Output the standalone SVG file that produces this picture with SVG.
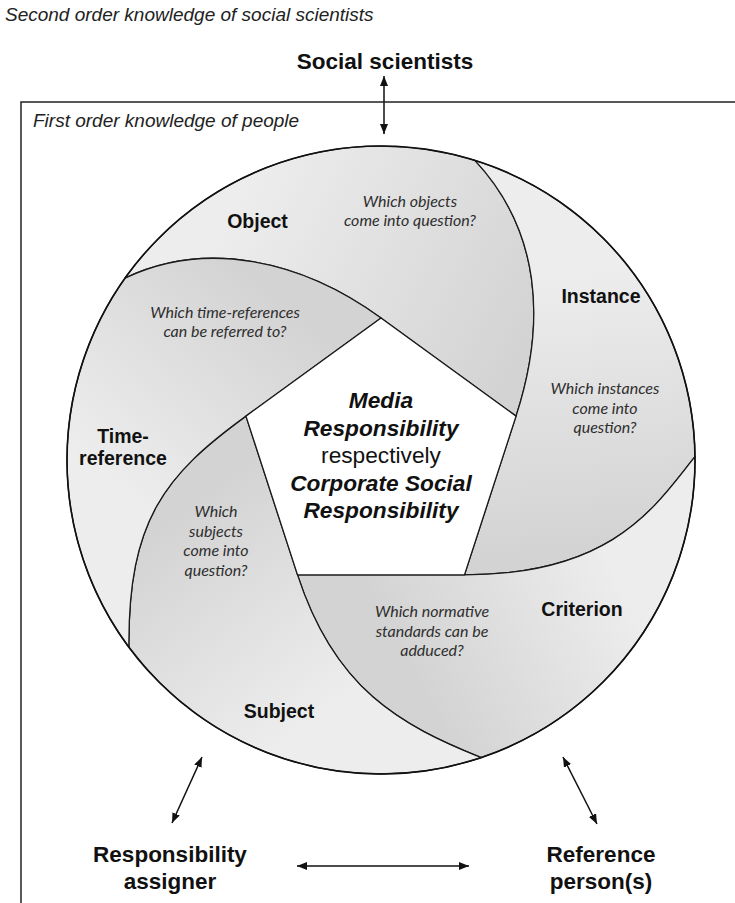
<svg xmlns="http://www.w3.org/2000/svg" width="735" height="903" viewBox="0 0 735 903">
<style>
.cap{font-family:"Liberation Sans",Arial,sans-serif;font-style:italic;font-size:19px;fill:#222}
.lbl{font-family:"Liberation Sans",Arial,sans-serif;font-weight:bold;font-size:19.5px;fill:#111;text-anchor:middle}
.big{font-family:"Liberation Sans",Arial,sans-serif;font-weight:bold;font-size:22.5px;fill:#111;text-anchor:middle}
.q{font-family:Lato,"Open Sans",sans-serif;font-style:italic;font-size:16px;fill:#2e2e2e;text-anchor:middle}
.ctr{font-family:"Liberation Sans",Arial,sans-serif;font-size:22.7px;fill:#111;text-anchor:middle}
.bi{font-weight:bold;font-style:italic}
.blade{stroke:#1a1a1a;stroke-width:1.3;stroke-linejoin:round}
.con{stroke:#111;stroke-width:1.5;fill:none;marker-start:url(#ah);marker-end:url(#ah)}
</style>
<defs>
<marker id="ah" viewBox="0 0 10 8" refX="10" refY="4" markerWidth="10" markerHeight="8" markerUnits="userSpaceOnUse" orient="auto-start-reverse">
<path d="M0,0 L10,4 L0,8 z" fill="#111"/>
</marker>
<linearGradient id="gObj" gradientUnits="userSpaceOnUse" x1="240" y1="190" x2="530" y2="340"><stop offset="0" stop-color="#ededed"/><stop offset="1" stop-color="#d3d3d3"/></linearGradient>
<linearGradient id="gIns" gradientUnits="userSpaceOnUse" x1="580" y1="270" x2="610" y2="545"><stop offset="0" stop-color="#ededed"/><stop offset="1" stop-color="#d3d3d3"/></linearGradient>
<linearGradient id="gCri" gradientUnits="userSpaceOnUse" x1="620" y1="580" x2="420" y2="690"><stop offset="0" stop-color="#ededed"/><stop offset="1" stop-color="#d3d3d3"/></linearGradient>
<linearGradient id="gSub" gradientUnits="userSpaceOnUse" x1="330" y1="710" x2="180" y2="510"><stop offset="0" stop-color="#ededed"/><stop offset="1" stop-color="#d3d3d3"/></linearGradient>
<linearGradient id="gTim" gradientUnits="userSpaceOnUse" x1="110" y1="480" x2="270" y2="290"><stop offset="0" stop-color="#ededed"/><stop offset="1" stop-color="#d3d3d3"/></linearGradient>
</defs>
<rect width="735" height="903" fill="#fff"/>
<text class="cap" x="5" y="21">Second order knowledge of social scientists</text>
<path d="M735,102 H21 V903" fill="none" stroke="#222" stroke-width="1.5"/>
<text class="cap" x="33" y="127">First order knowledge of people</text>

<g id="object">
<path class="blade" fill="url(#gObj)" d="M381,318 C300,259 205,240 125.1,278.1 A314,314 0 0 1 474.9,160.4 C540,230 547,321 516.05,416.12 Z"/>
<text class="lbl" x="257.5" y="227.5">Object</text>
<text class="q" x="410" y="206.5">Which objects</text>
<text class="q" x="410" y="226">come into question?</text>
</g>
<g id="instance">
<path class="blade" fill="url(#gIns)" d="M516.05,416.12 C547,321 540,230 474.9,160.4 A314,314 0 0 1 695,456.7 C656.8,503.8 615,574.88 464.47,574.88 Z"/>
<text class="lbl" x="601" y="303">Instance</text>
<text class="q" x="605" y="394">Which instances</text>
<text class="q" x="605" y="413.5">come into</text>
<text class="q" x="605" y="433">question?</text>
</g>
<g id="criterion">
<path class="blade" fill="url(#gCri)" d="M464.47,574.88 C615,574.88 656.8,503.8 695,456.7 A314,314 0 0 1 481.2,757.6 C400,725 334.6,689.1 297.53,574.88 Z"/>
<text class="lbl" x="582" y="616">Criterion</text>
<text class="q" x="432" y="617">Which normative</text>
<text class="q" x="432" y="636.5">standards can be</text>
<text class="q" x="432" y="656">adduced?</text>
</g>
<g id="subject">
<path class="blade" fill="url(#gSub)" d="M297.53,574.88 C334.6,689.1 400,725 481.2,757.6 A314,314 0 0 1 128.9,647.2 C128,520 165.1,474.8 245.95,416.12 Z"/>
<text class="lbl" x="279" y="718">Subject</text>
<text class="q" x="216" y="517">Which</text>
<text class="q" x="216" y="536.5">subjects</text>
<text class="q" x="216" y="556">come into</text>
<text class="q" x="216" y="575.5">question?</text>
</g>
<g id="time-reference">
<path class="blade" fill="url(#gTim)" d="M245.95,416.12 C165.1,474.8 128,520 128.9,647.2 A314,314 0 0 1 125.1,278.1 C205,240 300,259 381,318 Z"/>
<text class="lbl" x="123" y="443">Time-</text>
<text class="lbl" x="123" y="465">reference</text>
<text class="q" x="225" y="318">Which time-references</text>
<text class="q" x="225" y="337">can be referred to?</text>
</g>
<circle cx="381" cy="460" r="314" fill="none" stroke="#111" stroke-width="1.6"/>
<g id="center">
<polygon points="381,318 516.05,416.12 464.47,574.88 297.53,574.88 245.95,416.12" fill="#fff" stroke="#1a1a1a" stroke-width="1.3" stroke-linejoin="miter"/>
<text class="ctr bi" x="381" y="408">Media</text>
<text class="ctr bi" x="381" y="435.5">Responsibility</text>
<text class="ctr" x="381" y="463">respectively</text>
<text class="ctr bi" x="381" y="490.5">Corporate Social</text>
<text class="ctr bi" x="381" y="518">Responsibility</text>
</g>

<g id="social-scientists"><text class="big" x="385" y="69">Social scientists</text></g>
<g id="responsibility-assigner"><text class="big" x="170" y="862">Responsibility</text><text class="big" x="170" y="889">assigner</text></g>
<g id="reference-persons"><text class="big" x="601" y="862">Reference</text><text class="big" x="601" y="889">person(s)</text></g>

<g id="connectors">
<line class="con" x1="384" y1="76" x2="384" y2="134"/>
<line class="con" x1="202" y1="757" x2="172" y2="823"/>
<line class="con" x1="563" y1="757" x2="597" y2="824"/>
<line class="con" x1="297" y1="866" x2="469" y2="866"/>
</g>
</svg>
